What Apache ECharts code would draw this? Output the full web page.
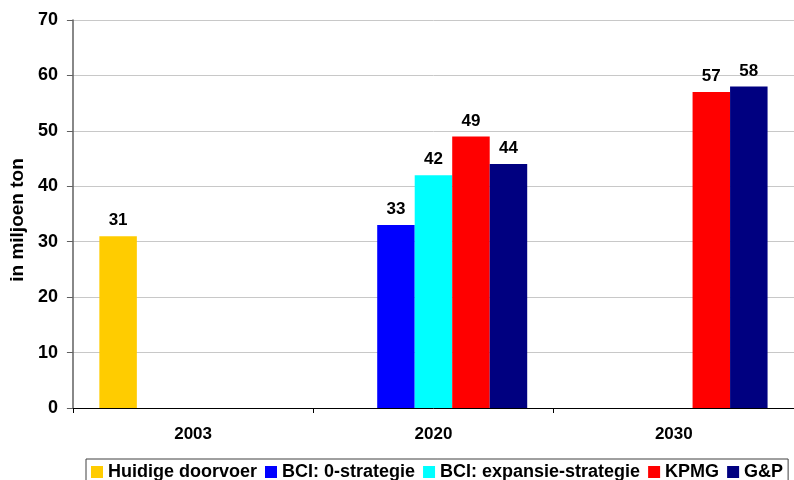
<!DOCTYPE html>
<html><head><meta charset="utf-8">
<script src="https://cdn.jsdelivr.net/npm/echarts@6/dist/echarts.min.js"></script>
<style>html,body{margin:0;padding:0;background:#fff}#c{width:794px;height:480px}</style>
</head><body><div id="c"></div>
<script>
const categories = ['2003', '2020', '2030'];
const seriesNames = ['Huidige doorvoer', 'BCI: 0-strategie', 'BCI: expansie-strategie', 'KPMG', 'G&P'];
const huidige = [31, null, null];
const bci0 = [null, 33, null];
const bciExp = [null, 42, null];
const kpmg = [null, 49, 57];
const gp = [null, 44, 58];
const yTicks = [0, 10, 20, 30, 40, 50, 60, 70];
const colors = ['#FFCC00', '#0000FF', '#00FFFF', '#FF0000', '#000080'];
const values = [huidige, bci0, bciExp, kpmg, gp];

const font = 'Liberation Sans, Arial, sans-serif';
const chart = echarts.init(document.getElementById('c'));
chart.setOption({
  animation: false,
  textStyle: { fontFamily: font },
  grid: { left: 71, width: 729, top: 20, height: 388, containLabel: false },
  legend: {
    top: 459, left: 86,
    data: seriesNames,
    icon: 'rect', itemWidth: 12, itemHeight: 12, itemGap: 8,
    borderColor: '#404040', borderWidth: 1, padding: [4, 5, 6, 5],
    textStyle: { fontFamily: font, fontWeight: 'bold', fontSize: 18, color: '#000' }
  },
  xAxis: {
    type: 'category', data: categories,
    axisLine: { lineStyle: { color: '#000', width: 1 } },
    axisTick: { show: true, length: 5, lineStyle: { color: '#000' } },
    axisLabel: { fontFamily: font, fontWeight: 'bold', fontSize: 17, color: '#000', margin: 18 },
    splitLine: { show: false }
  },
  yAxis: {
    type: 'value', min: 0, max: 70, interval: 10,
    name: 'in miljoen ton', nameLocation: 'middle', nameGap: 40, nameRotate: 90,
    nameTextStyle: { fontFamily: font, fontWeight: 'bold', fontSize: 19, color: '#000', padding: [0, 12, 0, 0] },
    axisLine: { show: true, lineStyle: { color: '#606060', width: 1.5 } },
    axisTick: { show: true, length: 6, lineStyle: { color: '#606060' } },
    axisLabel: { fontFamily: font, fontWeight: 'bold', fontSize: 18, color: '#000', margin: 15,
      formatter: v => yTicks.includes(v) ? String(v) : '' },
    splitLine: { show: true, lineStyle: { color: '#c8c8c8', width: 1 } }
  },
  series: seriesNames.map((n, i) => ({
    name: n, type: 'bar', data: values[i],
    barWidth: 37.5, barGap: '0%',
    itemStyle: { color: colors[i] },
    label: { show: true, position: 'top', distance: 7, fontFamily: font, fontWeight: 'bold', fontSize: 17, color: '#000' }
  }))
});
</script></body></html>
